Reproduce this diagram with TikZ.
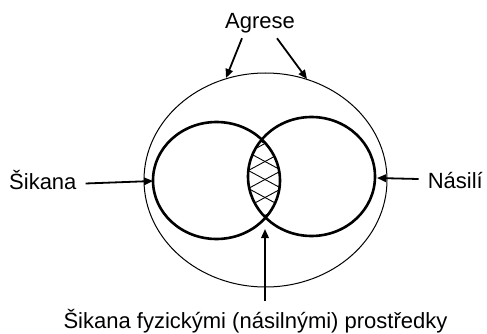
\documentclass[tikz,border=0pt]{standalone}
\usepackage{fontspec}
\setmainfont{Liberation Sans}
\usetikzlibrary{arrows.meta,calc}
\tikzset{
  lbl/.style={inner sep=0pt, font=\fontsize{22}{26}\selectfont},
  setline/.style={line width=2.6pt},
  outerline/.style={line width=1pt},
  arr/.style={line width=1.8pt, -{Triangle[length=9pt,width=7.5pt]}},
  hatch/.style={line width=0.9pt}
}
\begin{document}
\begin{tikzpicture}[x=1pt,y=-1pt]
\useasboundingbox (0,0) rectangle (487,334);
% outer ellipse (Agrese)
\draw[outerline] (265.5,180) ellipse [x radius=121.5, y radius=107];
% hatching of the intersection
\begin{scope}
  \clip (216.5,180.5) ellipse [x radius=63.5, y radius=58.5];
  \clip (311.5,176.5) ellipse [x radius=63.5, y radius=59.5];
  \foreach \k in {-2,...,7} {
    \draw[hatch] (240,{112+18*\k}) -- (290,{112+18*\k+27});
    \draw[hatch] (240,{121+18*\k}) -- (290,{121+18*\k-27});
  }
\end{scope}
% two sets
\draw[setline] (216.5,180.5) ellipse [x radius=63.5, y radius=58.5];
\draw[setline] (311.5,176.5) ellipse [x radius=63.5, y radius=59.5];
% labels
\node[lbl, anchor=base] (agrese) at (260,28.5) {Agrese};
\node[lbl, anchor=base west] (sikana) at (9,189) {Šikana};
\node[lbl, anchor=base east] (nasili) at (483,188) {Násilí};
\node[lbl, anchor=base] (fyz) at (255.5,328) {Šikana fyzickými (násilnými) prostředky};
% arrow ends
\coordinate (a1) at (226,78);
\coordinate (a2) at (307,79);
\coordinate (s1) at (153,181);
\coordinate (n1) at (377,178);
\coordinate (f1) at (265,229);
\draw[arr] ($(agrese.south)+(-18,5)$) -- (a1);
\draw[arr] ($(agrese.south)+(17,5)$) -- (a2);
\draw[arr] ($(sikana.east)+(9,4)$) -- (s1);
\draw[arr] ($(nasili.west)+(-9,-1)$) -- (n1);
\draw[arr] ($(fyz.north)+(9.5,-8)$) -- (f1);
\end{tikzpicture}
\end{document}
